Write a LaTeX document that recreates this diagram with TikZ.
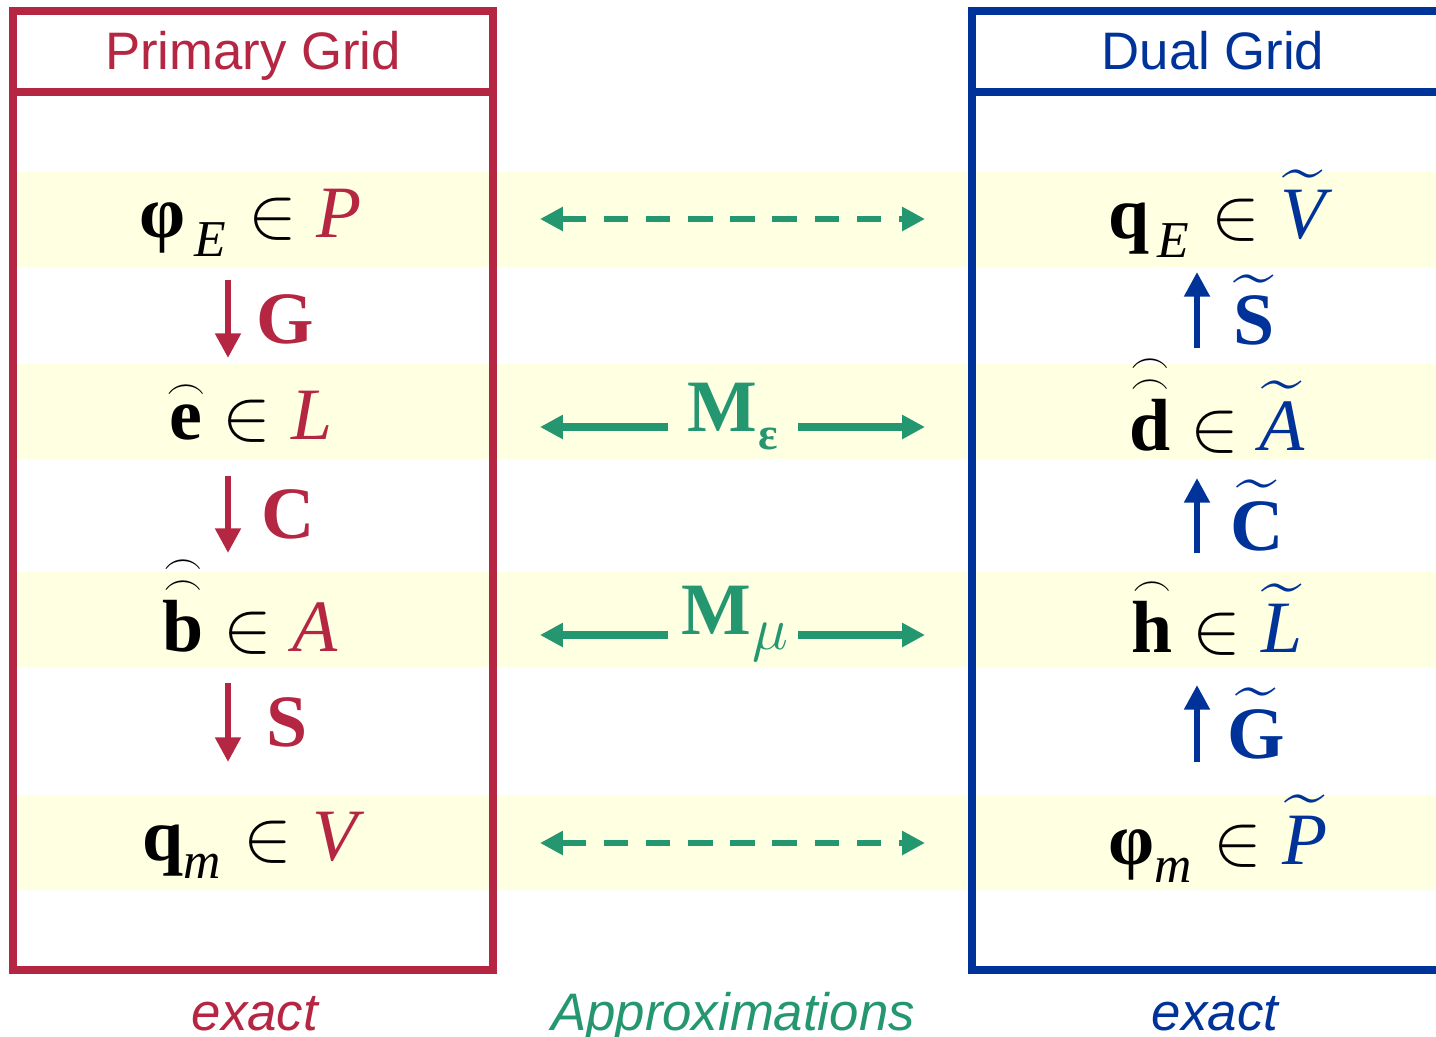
\documentclass[tikz,border=0pt]{standalone}
\usepackage{amsmath}
\usepackage{fontspec}
\setmainfont{Liberation Serif}
\setsansfont{Liberation Sans}
\usetikzlibrary{arrows.meta, positioning}
\definecolor{prired}{RGB}{181,38,66}
\definecolor{dualblue}{RGB}{0,51,153}
\definecolor{appgreen}{RGB}{36,150,112}
\definecolor{bandyel}{RGB}{255,255,226}
\newcommand{\bv}[1]{\textbf{#1}}
\newcommand{\iv}[1]{\textit{#1}}
\newcommand{\arcmark}[2][1.5pt]{\hbox{\setbox0\hbox{#2}%
  \rlap{\hbox to \wd0{\hss\raisebox{\dimexpr\ht0+#1\relax}{$\scriptscriptstyle\frown$}\hss}}\box0}}
\newcommand{\lowsub}[3]{\kern0.5pt\raisebox{-#1}{\fontsize{#2}{15}\selectfont #3}}

\begin{document}
\begin{tikzpicture}[
  x=0.01cm, y=-0.01cm,
  rowtxt/.style={font=\fontsize{21}{25}\selectfont, inner sep=0pt, anchor=base},
  oplab/.style={font=\bfseries\fontsize{21}{25}\selectfont, inner sep=0pt},
  hdr/.style={font=\sffamily\fontsize{15}{18}\selectfont, anchor=base},
  foot/.style={font=\sffamily\itshape\fontsize{15}{18}\selectfont, anchor=base},
  gridbox/.style={line width=2pt},
  redarr/.style={-{Triangle[length=7pt,width=7pt]}, line width=1.7pt, prired},
  bluarr/.style={-{Triangle[length=7pt,width=7pt]}, line width=1.7pt, dualblue},
  grarr/.style={-{Triangle[length=6.5pt,width=6.5pt]}, line width=2.2pt, appgreen},
  grdash/.style={{Triangle[length=6.5pt,width=6.5pt]}-{Triangle[length=6.5pt,width=6.5pt]},
                 line width=1.9pt, dash pattern=on 7pt off 5pt, appgreen},
]
\clip (0,0) rectangle (1436,1037);

% yellow rows
\foreach \ytop in {172,364,572,795}
  \fill[bandyel] (13,\ytop) rectangle (1436,\ytop+95);

% grid frames
\draw[gridbox, prired] (13,11) rectangle (493,970);
\draw[gridbox, prired] (13,92) -- (493,92);
\draw[gridbox, dualblue] (972,11) rectangle (1460,970);
\draw[gridbox, dualblue] (972,92) -- (1460,92);

\node[hdr, text=prired]   (prititle)  at (253,70)  {Primary Grid};
\node[hdr, text=dualblue] (dualtitle) at (1213,70) {Dual Grid};

% primary grid
\node[rowtxt] (phiE) at (251,238) {$\bv{φ}_{\,\iv{E}}\in\textcolor{prired}{\iv{P}}$};
\node[rowtxt] (eL)   at (251,440) {$\arcmark{\bv{e}}\in\textcolor{prired}{\iv{L}}$};
\node[rowtxt] (bA)   at (250,652) {$\arcmark[2pt]{\arcmark{\bv{b}}}\in\textcolor{prired}{\iv{A}}$};
\node[rowtxt] (qV)   at (250,860) {$\bv{q}_{\iv{m}}\in\textcolor{prired}{\iv{V}}$};

% dual grid
\node[rowtxt] (qE)   at (1217,239) {$\bv{q}_{\,\iv{E}}\in\textcolor{dualblue}{\widetilde{\iv{V}}}$};
\node[rowtxt] (dA)   at (1217,451) {$\arcmark[2pt]{\arcmark{\bv{d}}}\in\textcolor{dualblue}{\widetilde{\iv{A}}}$};
\node[rowtxt] (hL)   at (1217,653) {$\arcmark{\bv{h}}\in\textcolor{dualblue}{\widetilde{\iv{L}}}$};
\node[rowtxt] (phiP) at (1218,864) {$\bv{φ}_{\iv{m}}\in\textcolor{dualblue}{\widetilde{\iv{P}}}$};

% operators
\coordinate (g1) at (228,280); \coordinate (g2) at (228,358);
\coordinate (c1) at (228,476); \coordinate (c2) at (228,553);
\coordinate (s1) at (228,683); \coordinate (s2) at (228,762);
\draw[redarr] (g1) -- node[oplab, text=prired, right=0.25cm] (opG) {G} (g2);
\draw[redarr] (c1) -- node[oplab, text=prired, right=0.3cm] (opC) {C} (c2);
\draw[redarr] (s1) -- node[oplab, text=prired, right=0.35cm] (opS) {S} (s2);

\coordinate (st1) at (1197,348); \coordinate (st2) at (1197,272);
\coordinate (ct1) at (1197,553); \coordinate (ct2) at (1197,478);
\coordinate (gt1) at (1197,762); \coordinate (gt2) at (1197,685);
\draw[bluarr] (st1) -- node[oplab, text=dualblue, right=0.33cm] (opSt) {$\widetilde{\bv{S}}$} (st2);
\draw[bluarr] (ct1) -- node[oplab, text=dualblue, right=0.3cm] (opCt) {$\widetilde{\bv{C}}$} (ct2);
\draw[bluarr] (gt1) -- node[oplab, text=dualblue, right=0.27cm] (opGt) {$\widetilde{\bv{G}}$} (gt2);

% approximations
\node[rowtxt, text=appgreen] (Meps) at (733,432) {\bv{M}\lowsub{5pt}{13}{\bv{ε}}};
\node[rowtxt, text=appgreen] (Mmu)  at (735,635) {\bv{M}\lowsub{4pt}{16}{$\mu$}};
\coordinate (e1) at (668,427); \coordinate (e2) at (540,427);
\coordinate (e3) at (798,427); \coordinate (e4) at (925,427);
\coordinate (m1) at (668,635); \coordinate (m2) at (540,635);
\coordinate (m3) at (798,635); \coordinate (m4) at (925,635);
\draw[grarr] (e1) -- (e2);
\draw[grarr] (e3) -- (e4);
\draw[grarr] (m1) -- (m2);
\draw[grarr] (m3) -- (m4);
\coordinate (d1) at (540,219); \coordinate (d2) at (925,219);
\coordinate (d3) at (540,843); \coordinate (d4) at (925,843);
\draw[grdash] (d1) -- (d2);
\draw[grdash] (d3) -- (d4);

\node[foot, text=prired]   (exL) at (255,1030)  {exact};
\node[foot, text=appgreen] (apx) at (733,1030)  {Approximations};
\node[foot, text=dualblue] (exR) at (1215,1030) {exact};

\end{tikzpicture}
\end{document}
